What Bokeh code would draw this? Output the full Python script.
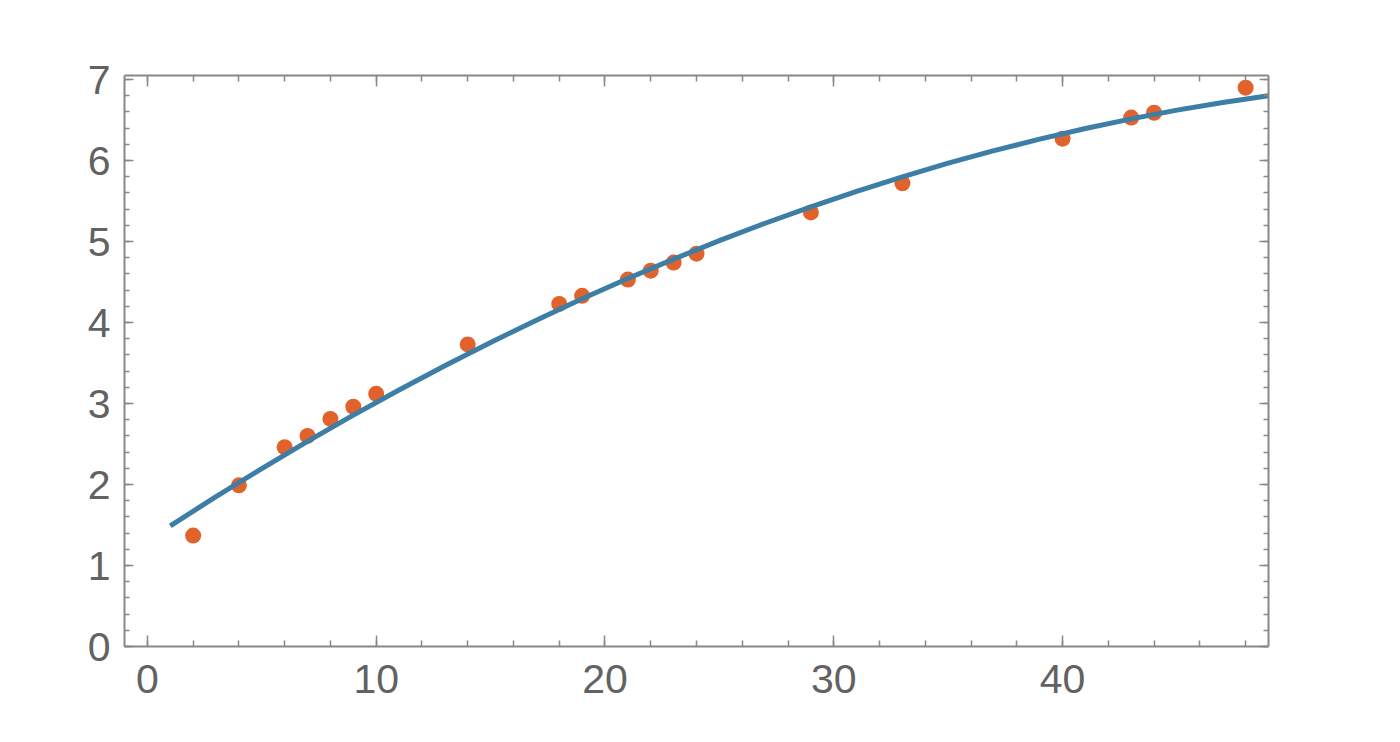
from bokeh.plotting import figure
from bokeh.models import LinearAxis, SingleIntervalTicker, Range1d, CustomJSTickFormatter
from bokeh.embed import file_html
from bokeh.resources import INLINE

# observed data points
data_x = [2, 4, 6, 7, 8, 9, 10, 14, 18, 19, 21, 22, 23, 24, 29, 33, 40, 43, 44, 48]
data_y = [1.37, 1.99, 2.46, 2.60, 2.81, 2.96, 3.12, 3.73, 4.23, 4.33, 4.53, 4.64,
          4.74, 4.85, 5.36, 5.72, 6.27, 6.53, 6.59, 6.90]

# fitted curve
fit_x = [1, 3, 5, 7, 9, 11, 13, 15, 17, 19, 21, 23, 25, 27, 29, 31, 33, 35, 37, 39,
         41, 43, 45, 47, 49]
fit_y = [1.490, 1.850, 2.197, 2.532, 2.856, 3.167, 3.467, 3.754, 4.029, 4.293, 4.544,
         4.783, 5.011, 5.226, 5.429, 5.620, 5.799, 5.967, 6.122, 6.265, 6.396, 6.515,
         6.622, 6.717, 6.800]

AXIS_COLOR = "#888888"
LABEL_COLOR = "#626262"
FONT = "Liberation Sans"

p = figure(width=1384, height=726, output_backend="svg", toolbar_location=None,
           x_range=Range1d(-1, 49), y_range=Range1d(0, 7.05),
           min_border_left=124, min_border_right=116, min_border_top=75,
           min_border_bottom=80, x_axis_type=None, y_axis_type=None)
p.outline_line_color = None
p.xgrid.visible = False
p.ygrid.visible = False
p.background_fill_color = "white"
p.border_fill_color = "white"


def make_axis(kind, show_labels):
    if kind == "x":
        ticker = SingleIntervalTicker(interval=10, num_minor_ticks=5)
        tin, tmin = 11, 6
        standoff = 18
    else:
        ticker = SingleIntervalTicker(interval=1, num_minor_ticks=5)
        tin, tmin = 9, 5
        standoff = 14
    ax = LinearAxis(ticker=ticker)
    ax.axis_line_color = AXIS_COLOR
    ax.axis_line_width = 2
    ax.major_tick_line_color = AXIS_COLOR
    ax.minor_tick_line_color = AXIS_COLOR
    ax.major_tick_line_width = 1.5
    ax.minor_tick_line_width = 1.5
    ax.major_tick_in = tin
    ax.major_tick_out = 0
    ax.minor_tick_in = tmin
    ax.minor_tick_out = 0
    ax.major_label_standoff = standoff
    ax.major_label_text_font = FONT
    ax.major_label_text_font_size = "41px"
    ax.major_label_text_color = LABEL_COLOR
    if not show_labels:
        ax.formatter = CustomJSTickFormatter(code="return '';")
        ax.major_label_text_font_size = "0px"
        ax.major_label_standoff = 0
    return ax


p.add_layout(make_axis("x", True), "below")
p.add_layout(make_axis("y", True), "left")
p.add_layout(make_axis("x", False), "above")
p.add_layout(make_axis("y", False), "right")

p.scatter(data_x, data_y, size=16, color="#E2622B", line_color=None)
p.line(fit_x, fit_y, line_width=5, color="#3D7EA6", line_join="round")

open("out.html", "w").write(file_html(p, INLINE))
